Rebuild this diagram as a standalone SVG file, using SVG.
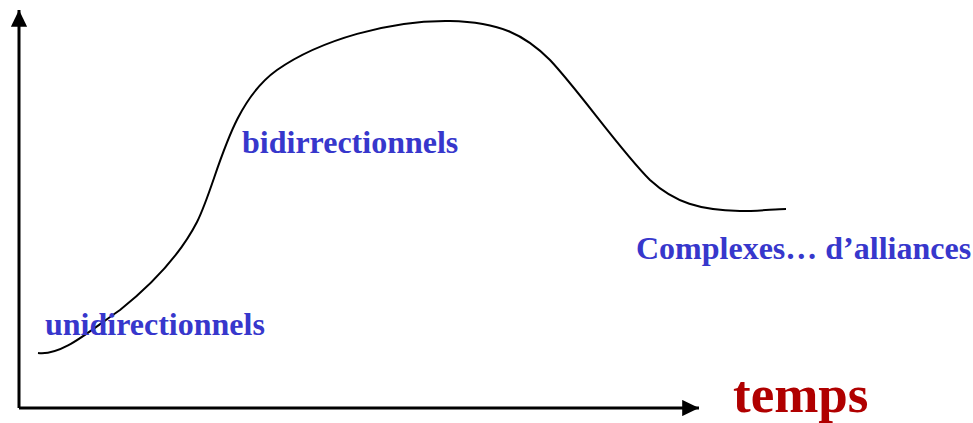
<svg xmlns="http://www.w3.org/2000/svg" width="973" height="423" viewBox="0 0 973 423">
<style>
.lbl{font-family:"Liberation Serif","Times New Roman",serif;font-weight:bold;font-size:32px;fill:#3737CC}
.axis{stroke:#000;stroke-width:3;fill:none}
</style>
<defs>
<marker id="ah" viewBox="0 0 10 10" refX="10" refY="5" markerWidth="5.6" markerHeight="5.4" orient="auto" markerUnits="strokeWidth" preserveAspectRatio="none">
<path d="M0,0 L10,5 L0,10 z" fill="#000"/>
</marker>
</defs>
<rect width="973" height="423" fill="#fff"/>
<g id="axes">
<path class="axis" d="M19,408 L19,10" marker-end="url(#ah)"/>
<path class="axis" d="M19,408 L699,408" marker-end="url(#ah)"/>
</g>
<g id="curve">
<path d="M38,353 C62,356 88,332 120,310 C150,286 180,255 197,222 C218,180 228,105 277,70 C320,40 390,20 450,21 C500,22 525,35 550,60 C580,92 620,150 650,180 C675,203 700,210 740,211 C760,211 775,209 786,209" fill="none" stroke="#000" stroke-width="2"/>
</g>
<g id="labels">
<text class="lbl" x="45" y="335">unidirectionnels</text>
<text class="lbl" x="242" y="153">bidirrectionnels</text>
<text class="lbl" x="636" y="259">Complexes… d’alliances</text>
<text x="733" y="412" font-family="Liberation Serif,'Times New Roman',serif" font-weight="bold" font-size="53" fill="#B00000">temps</text>
</g>
</svg>
